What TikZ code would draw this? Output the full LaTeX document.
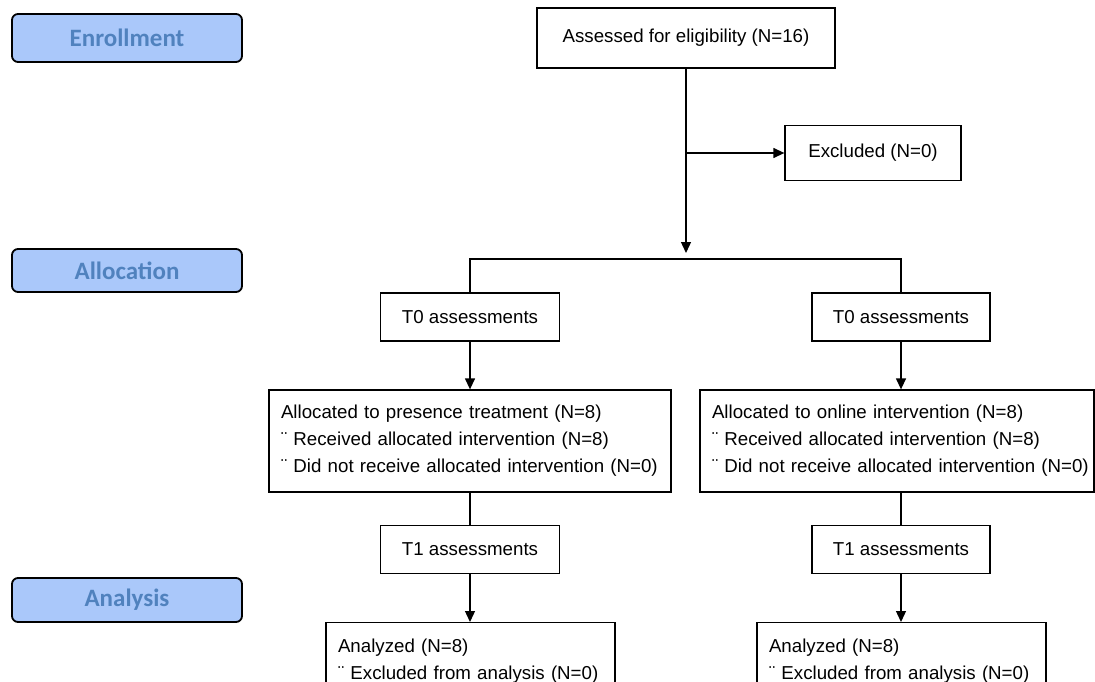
\documentclass[tikz,border=0pt]{standalone}
\usepackage{fontspec}
\setmainfont{Liberation Sans}
\newfontfamily\calibfont{Carlito}
\usetikzlibrary{arrows.meta,calc}
\definecolor{lblfill}{RGB}{170,200,250}
\definecolor{lbltext}{RGB}{80,130,190}
\begin{document}
\begin{tikzpicture}[x=1pt,y=-1pt,
  box/.style={draw,line width=1.3pt,inner sep=0pt,font=\fontsize{18.7}{27}\selectfont},
  txtbox/.style={box,align=left,inner xsep=12pt},
  phase/.style={draw,line width=1.8pt,rounded corners=6pt,fill=lblfill,text=lbltext,
    font=\calibfont\bfseries\fontsize{25}{28}\selectfont,minimum width=230pt,inner sep=0pt},
  conn/.style={line width=1.3pt},
  arr/.style={line width=1.3pt,-{Triangle[length=11pt,width=10pt]}}]
\path[use as bounding box,clip] (0,0) rectangle (1095,682);
% phase labels
\node[phase,minimum height=48pt] (enr) at (127,38) {Enrollment};
\node[phase,minimum height=43pt] (alc) at (127,270.5) {Allocation};
\node[phase,minimum height=44pt] (anl) at (127,600) {Analysis};
% boxes
\node[box,minimum width=298pt,minimum height=60pt] (assess) at (686,38) {Assessed for eligibility (N=16)};
\node[box,minimum width=176pt,minimum height=55pt] (excl) at (873,153) {Excluded (N=0)};
\node[box,minimum width=179pt,minimum height=48pt] (t0L) at (470,317) {T0 assessments};
\node[box,minimum width=178pt,minimum height=48pt] (t0R) at (901,317) {T0 assessments};
\node[txtbox,text width=378pt,minimum height=102pt] (allocL) at (470,441)
  {\mbox{Allocated to presence treatment (N=8)}\\ \mbox{¨ Received allocated intervention (N=8)}\\ \mbox{¨ Did not receive allocated intervention (N=0)}};
\node[txtbox,text width=370pt,minimum height=102pt] (allocR) at (897,441)
  {\mbox{Allocated to online intervention (N=8)}\\ \mbox{¨ Received allocated intervention (N=8)}\\ \mbox{¨ Did not receive allocated intervention (N=0)}};
\node[box,minimum width=179pt,minimum height=48pt] (t1L) at (470,549.5) {T1 assessments};
\node[box,minimum width=178pt,minimum height=48pt] (t1R) at (901,549.5) {T1 assessments};
\node[txtbox,text width=265pt,inner ysep=16pt,anchor=north] (anaL) at (470.5,622)
  {\mbox{Analyzed (N=8)}\\ \mbox{¨ Excluded from analysis (N=0)}};
\node[txtbox,text width=265pt,inner ysep=16pt,anchor=north] (anaR) at (901.5,622)
  {\mbox{Analyzed (N=8)}\\ \mbox{¨ Excluded from analysis (N=0)}};
% connectors
\coordinate (split) at (686,253);
\coordinate (br) at (686,153);
\coordinate (hl) at (470,259);
\coordinate (hr) at (901,259);
\draw[arr] (assess.south) -- (split);
\draw[arr] (br) -- (excl.west);
\draw[conn] (t0L.north) -- (hl) -- (hr) -- (t0R.north);
\draw[arr] (t0L.south) -- (t0L.south |- allocL.north);
\draw[arr] (t0R.south) -- (t0R.south |- allocR.north);
\draw[conn] (t1L.north |- allocL.south) -- (t1L.north);
\draw[conn] (t1R.north |- allocR.south) -- (t1R.north);
\draw[arr] (t1L.south) -- (t1L.south |- anaL.north);
\draw[arr] (t1R.south) -- (t1R.south |- anaR.north);
\end{tikzpicture}
\end{document}
